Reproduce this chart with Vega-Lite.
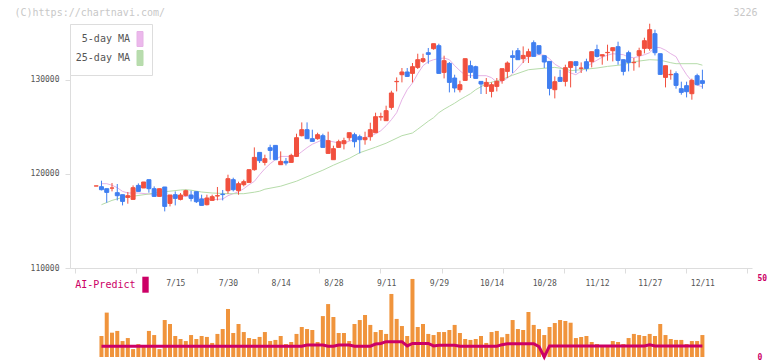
{
"$schema":"https://vega.github.io/schema/vega-lite/v6.json",
"background":"white",
"padding":{"left":14,"top":7,"right":4,"bottom":0},
"bounds":"flush",
"spacing":10,
"resolve":{"scale":{"color":"independent"},"legend":{"color":"independent"}},
"config":{"view":{"stroke":null},
 "axis":{"grid":false,"labelFont":"DejaVu Sans Mono","labelFontSize":8,"labelColor":"#555555","domainColor":"#dddddd","tickColor":"#dddddd","titleFont":"DejaVu Sans Mono"},
 "legend":{"labelFont":"DejaVu Sans Mono","labelFontSize":10}},
"datasets":{
"candles":[
{"i":0,"o":118720,"h":118730,"l":118720,"c":118730},
{"i":1,"o":118649,"h":119287,"l":118255,"c":118330},
{"i":2,"o":118436,"h":118436,"l":116947,"c":118043},
{"i":3,"o":118500,"h":119043,"l":118149,"c":118511},
{"i":4,"o":118011,"h":118936,"l":117192,"c":117692},
{"i":5,"o":117798,"h":117798,"l":116660,"c":117085},
{"i":6,"o":117511,"h":118085,"l":116840,"c":117692},
{"i":7,"o":117298,"h":118787,"l":117298,"c":118542},
{"i":8,"o":118787,"h":119000,"l":118149,"c":118149},
{"i":9,"o":118511,"h":119149,"l":118511,"c":119149},
{"i":10,"o":119394,"h":119394,"l":118011,"c":118436},
{"i":11,"o":118436,"h":118681,"l":117617,"c":117617},
{"i":12,"o":117617,"h":118436,"l":117617,"c":118436},
{"i":13,"o":118617,"h":118617,"l":116021,"c":116553},
{"i":14,"o":116872,"h":117766,"l":116553,"c":117766},
{"i":15,"o":117798,"h":118149,"l":116660,"c":117404},
{"i":16,"o":117298,"h":117979,"l":117192,"c":117766},
{"i":17,"o":117723,"h":118330,"l":117617,"c":118223},
{"i":18,"o":117766,"h":118223,"l":117085,"c":117404},
{"i":19,"o":118117,"h":118117,"l":116915,"c":117053},
{"i":20,"o":117340,"h":117798,"l":116660,"c":116660},
{"i":21,"o":116734,"h":117798,"l":116660,"c":117447},
{"i":22,"o":117192,"h":117798,"l":117192,"c":117585},
{"i":23,"o":117660,"h":118617,"l":117192,"c":117692},
{"i":24,"o":117851,"h":118298,"l":117192,"c":117808},
{"i":25,"o":118223,"h":119925,"l":117904,"c":119500},
{"i":26,"o":119394,"h":119606,"l":118149,"c":118330},
{"i":27,"o":118223,"h":119181,"l":117798,"c":118968},
{"i":28,"o":118862,"h":119394,"l":118681,"c":119181},
{"i":29,"o":119106,"h":120457,"l":119106,"c":120457},
{"i":30,"o":120457,"h":122830,"l":120351,"c":121766},
{"i":31,"o":122298,"h":122298,"l":121170,"c":121415},
{"i":32,"o":121234,"h":122053,"l":120915,"c":121628},
{"i":33,"o":122798,"h":123117,"l":121521,"c":122510},
{"i":34,"o":123042,"h":123042,"l":121521,"c":121521},
{"i":35,"o":120989,"h":122404,"l":120989,"c":121340},
{"i":36,"o":121340,"h":121702,"l":120915,"c":121170},
{"i":37,"o":121234,"h":122159,"l":121234,"c":121979},
{"i":38,"o":121872,"h":124287,"l":121808,"c":123862},
{"i":39,"o":124074,"h":125489,"l":124000,"c":124713},
{"i":40,"o":124713,"h":125489,"l":123755,"c":123755},
{"i":41,"o":123755,"h":124713,"l":123468,"c":123468},
{"i":42,"o":123755,"h":124393,"l":123649,"c":124181},
{"i":43,"o":124074,"h":124287,"l":122830,"c":122830},
{"i":44,"o":122191,"h":124500,"l":122191,"c":123542},
{"i":45,"o":121521,"h":123011,"l":121521,"c":122691},
{"i":46,"o":122830,"h":123649,"l":122830,"c":123436},
{"i":47,"o":123223,"h":123862,"l":122617,"c":123542},
{"i":48,"o":123862,"h":124393,"l":123542,"c":124393},
{"i":49,"o":124181,"h":124393,"l":122830,"c":123436},
{"i":50,"o":123968,"h":124181,"l":122191,"c":123649},
{"i":51,"o":123649,"h":124500,"l":123117,"c":123862},
{"i":52,"o":123968,"h":125457,"l":123542,"c":124713},
{"i":53,"o":124393,"h":126521,"l":124393,"c":126096},
{"i":54,"o":126063,"h":126521,"l":125670,"c":126096},
{"i":55,"o":125670,"h":127266,"l":125670,"c":126734},
{"i":56,"o":127085,"h":128861,"l":126840,"c":128617},
{"i":57,"o":129819,"h":130276,"l":128787,"c":129851},
{"i":58,"o":130563,"h":131276,"l":129744,"c":130851},
{"i":59,"o":130851,"h":131276,"l":130319,"c":130383},
{"i":60,"o":130702,"h":131808,"l":129744,"c":131415},
{"i":61,"o":131340,"h":132797,"l":131170,"c":132159},
{"i":62,"o":131978,"h":132797,"l":131808,"c":132266},
{"i":63,"o":132904,"h":133404,"l":131734,"c":132723},
{"i":64,"o":133329,"h":133861,"l":133223,"c":133861},
{"i":65,"o":133649,"h":133861,"l":130702,"c":130702},
{"i":66,"o":130808,"h":132585,"l":130170,"c":132053},
{"i":67,"o":131766,"h":131914,"l":128681,"c":129744},
{"i":68,"o":130212,"h":130563,"l":128681,"c":129149},
{"i":69,"o":128968,"h":129925,"l":128681,"c":129500},
{"i":70,"o":129957,"h":132266,"l":129957,"c":132266},
{"i":71,"o":131521,"h":132053,"l":130212,"c":130808},
{"i":72,"o":131415,"h":131521,"l":130170,"c":130170},
{"i":73,"o":129851,"h":129851,"l":128510,"c":129574},
{"i":74,"o":129319,"h":130212,"l":128510,"c":129744},
{"i":75,"o":128787,"h":129744,"l":128149,"c":129500},
{"i":76,"o":129319,"h":130212,"l":128787,"c":129851},
{"i":77,"o":129957,"h":131202,"l":129606,"c":131202},
{"i":78,"o":130915,"h":131978,"l":130212,"c":131808},
{"i":79,"o":132585,"h":133149,"l":130744,"c":132404},
{"i":80,"o":133117,"h":133404,"l":132159,"c":132159},
{"i":81,"o":132266,"h":133574,"l":131808,"c":132617},
{"i":82,"o":132510,"h":133329,"l":131808,"c":133010},
{"i":83,"o":133968,"h":134212,"l":132510,"c":132510},
{"i":84,"o":133649,"h":133649,"l":132659,"c":132797},
{"i":85,"o":132585,"h":132585,"l":131276,"c":131914},
{"i":86,"o":131978,"h":131978,"l":128361,"c":129106},
{"i":87,"o":128968,"h":130383,"l":128042,"c":129819},
{"i":88,"o":130276,"h":131095,"l":129851,"c":129851},
{"i":89,"o":129851,"h":131627,"l":129319,"c":131308},
{"i":90,"o":131340,"h":131946,"l":129212,"c":131946},
{"i":91,"o":131946,"h":131946,"l":130744,"c":131553},
{"i":92,"o":131244,"h":131872,"l":130744,"c":131276},
{"i":93,"o":131946,"h":132266,"l":130915,"c":131234},
{"i":94,"o":131946,"h":133010,"l":131340,"c":133010},
{"i":95,"o":133223,"h":133755,"l":132404,"c":132510},
{"i":96,"o":132553,"h":132691,"l":131627,"c":132691},
{"i":97,"o":132904,"h":133755,"l":132053,"c":132936},
{"i":98,"o":133117,"h":133436,"l":131978,"c":133436},
{"i":99,"o":133542,"h":134074,"l":131627,"c":132085},
{"i":100,"o":132159,"h":132159,"l":130489,"c":130915},
{"i":101,"o":132904,"h":133117,"l":130915,"c":131872},
{"i":102,"o":131840,"h":132340,"l":130989,"c":131872},
{"i":103,"o":132617,"h":133436,"l":131340,"c":133117},
{"i":104,"o":133361,"h":134500,"l":132829,"c":134180},
{"i":105,"o":133361,"h":135989,"l":133117,"c":135351},
{"i":106,"o":134925,"h":135351,"l":132617,"c":132904},
{"i":107,"o":132797,"h":132797,"l":130595,"c":130595},
{"i":108,"o":130276,"h":131521,"l":129212,"c":131521},
{"i":109,"o":130563,"h":131095,"l":130032,"c":130595},
{"i":110,"o":130670,"h":130915,"l":129074,"c":129425},
{"i":111,"o":129074,"h":129819,"l":128436,"c":128681},
{"i":112,"o":129393,"h":129819,"l":128149,"c":128755},
{"i":113,"o":128542,"h":130138,"l":127904,"c":129957},
{"i":114,"o":130457,"h":130670,"l":129425,"c":129500},
{"i":115,"o":129925,"h":131095,"l":129074,"c":129638}
],
"ma":[
{"i":1,"s":"5-day MA","v":118968},{"i":2,"s":"5-day MA","v":118968},{"i":3,"s":"5-day MA","v":118808},{"i":4,"s":"5-day MA","v":118542},{"i":5,"s":"5-day MA","v":118149},{"i":6,"s":"5-day MA","v":117979},{"i":8,"s":"5-day MA","v":117979},{"i":10,"s":"5-day MA","v":117872},{"i":12,"s":"5-day MA","v":117798},{"i":14,"s":"5-day MA","v":117617},{"i":16,"s":"5-day MA","v":117585},{"i":18,"s":"5-day MA","v":117660},{"i":20,"s":"5-day MA","v":117372},{"i":22,"s":"5-day MA","v":117266},{"i":24,"s":"5-day MA","v":117340},{"i":25,"s":"5-day MA","v":117692},{"i":26,"s":"5-day MA","v":117904},{"i":27,"s":"5-day MA","v":118117},{"i":28,"s":"5-day MA","v":118436},{"i":29,"s":"5-day MA","v":118862},{"i":30,"s":"5-day MA","v":119213},{"i":31,"s":"5-day MA","v":119925},{"i":32,"s":"5-day MA","v":120564},{"i":33,"s":"5-day MA","v":121096},{"i":34,"s":"5-day MA","v":121521},{"i":35,"s":"5-day MA","v":121872},{"i":37,"s":"5-day MA","v":121872},{"i":38,"s":"5-day MA","v":121947},{"i":39,"s":"5-day MA","v":122372},{"i":40,"s":"5-day MA","v":122798},{"i":41,"s":"5-day MA","v":123170},{"i":43,"s":"5-day MA","v":123649},{"i":44,"s":"5-day MA","v":123542},{"i":46,"s":"5-day MA","v":123298},{"i":47,"s":"5-day MA","v":123298},{"i":48,"s":"5-day MA","v":123489},{"i":49,"s":"5-day MA","v":123649},{"i":50,"s":"5-day MA","v":123808},{"i":51,"s":"5-day MA","v":123894},{"i":52,"s":"5-day MA","v":124000},{"i":53,"s":"5-day MA","v":124287},{"i":54,"s":"5-day MA","v":124606},{"i":55,"s":"5-day MA","v":125138},{"i":56,"s":"5-day MA","v":125776},{"i":57,"s":"5-day MA","v":126521},{"i":58,"s":"5-day MA","v":127904},{"i":59,"s":"5-day MA","v":128968},{"i":60,"s":"5-day MA","v":129680},{"i":61,"s":"5-day MA","v":130670},{"i":62,"s":"5-day MA","v":131521},{"i":63,"s":"5-day MA","v":131946},{"i":64,"s":"5-day MA","v":132159},{"i":65,"s":"5-day MA","v":132266},{"i":66,"s":"5-day MA","v":132340},{"i":67,"s":"5-day MA","v":132159},{"i":68,"s":"5-day MA","v":131521},{"i":69,"s":"5-day MA","v":130989},{"i":70,"s":"5-day MA","v":130510},{"i":71,"s":"5-day MA","v":130457},{"i":72,"s":"5-day MA","v":130457},{"i":73,"s":"5-day MA","v":130457},{"i":74,"s":"5-day MA","v":130457},{"i":75,"s":"5-day MA","v":130244},{"i":76,"s":"5-day MA","v":129766},{"i":77,"s":"5-day MA","v":129851},{"i":78,"s":"5-day MA","v":130191},{"i":79,"s":"5-day MA","v":130670},{"i":80,"s":"5-day MA","v":131276},{"i":81,"s":"5-day MA","v":131893},{"i":82,"s":"5-day MA","v":132425},{"i":83,"s":"5-day MA","v":132638},{"i":84,"s":"5-day MA","v":132691},{"i":85,"s":"5-day MA","v":132638},{"i":86,"s":"5-day MA","v":132266},{"i":87,"s":"5-day MA","v":131680},{"i":88,"s":"5-day MA","v":131361},{"i":89,"s":"5-day MA","v":131042},{"i":90,"s":"5-day MA","v":130744},{"i":91,"s":"5-day MA","v":130563},{"i":92,"s":"5-day MA","v":130936},{"i":93,"s":"5-day MA","v":131361},{"i":94,"s":"5-day MA","v":131787},{"i":95,"s":"5-day MA","v":132106},{"i":96,"s":"5-day MA","v":132425},{"i":97,"s":"5-day MA","v":132638},{"i":98,"s":"5-day MA","v":132797},{"i":99,"s":"5-day MA","v":132744},{"i":100,"s":"5-day MA","v":132691},{"i":101,"s":"5-day MA","v":132425},{"i":102,"s":"5-day MA","v":132372},{"i":103,"s":"5-day MA","v":132510},{"i":104,"s":"5-day MA","v":132691},{"i":105,"s":"5-day MA","v":132904},{"i":106,"s":"5-day MA","v":133489},{"i":107,"s":"5-day MA","v":133436},{"i":108,"s":"5-day MA","v":133170},{"i":109,"s":"5-day MA","v":132797},{"i":110,"s":"5-day MA","v":132478},{"i":111,"s":"5-day MA","v":131446},{"i":112,"s":"5-day MA","v":130563},{"i":113,"s":"5-day MA","v":129872},{"i":114,"s":"5-day MA","v":129447},{"i":115,"s":"5-day MA","v":129287},
{"i":1,"s":"25-day MA","v":116734},{"i":3,"s":"25-day MA","v":117192},{"i":5,"s":"25-day MA","v":117511},{"i":7,"s":"25-day MA","v":117638},{"i":10,"s":"25-day MA","v":117872},{"i":12,"s":"25-day MA","v":118064},{"i":14,"s":"25-day MA","v":118170},{"i":16,"s":"25-day MA","v":118298},{"i":17,"s":"25-day MA","v":118330},{"i":18,"s":"25-day MA","v":118277},{"i":20,"s":"25-day MA","v":118085},{"i":22,"s":"25-day MA","v":117979},{"i":25,"s":"25-day MA","v":117904},{"i":28,"s":"25-day MA","v":117904},{"i":30,"s":"25-day MA","v":118064},{"i":31,"s":"25-day MA","v":118170},{"i":32,"s":"25-day MA","v":118383},{"i":35,"s":"25-day MA","v":118702},{"i":38,"s":"25-day MA","v":119234},{"i":40,"s":"25-day MA","v":119713},{"i":43,"s":"25-day MA","v":120404},{"i":45,"s":"25-day MA","v":120936},{"i":48,"s":"25-day MA","v":121659},{"i":50,"s":"25-day MA","v":122266},{"i":53,"s":"25-day MA","v":122851},{"i":55,"s":"25-day MA","v":123276},{"i":58,"s":"25-day MA","v":124074},{"i":60,"s":"25-day MA","v":124361},{"i":61,"s":"25-day MA","v":124766},{"i":62,"s":"25-day MA","v":125191},{"i":63,"s":"25-day MA","v":125617},{"i":64,"s":"25-day MA","v":125989},{"i":65,"s":"25-day MA","v":126521},{"i":66,"s":"25-day MA","v":126893},{"i":67,"s":"25-day MA","v":127213},{"i":68,"s":"25-day MA","v":127532},{"i":69,"s":"25-day MA","v":127904},{"i":70,"s":"25-day MA","v":128223},{"i":71,"s":"25-day MA","v":128542},{"i":72,"s":"25-day MA","v":128968},{"i":74,"s":"25-day MA","v":129606},{"i":77,"s":"25-day MA","v":130063},{"i":79,"s":"25-day MA","v":130510},{"i":82,"s":"25-day MA","v":131095},{"i":84,"s":"25-day MA","v":131202},{"i":87,"s":"25-day MA","v":131340},{"i":89,"s":"25-day MA","v":131170},{"i":90,"s":"25-day MA","v":130989},{"i":92,"s":"25-day MA","v":131095},{"i":95,"s":"25-day MA","v":131276},{"i":97,"s":"25-day MA","v":131446},{"i":100,"s":"25-day MA","v":131627},{"i":102,"s":"25-day MA","v":131946},{"i":105,"s":"25-day MA","v":132159},{"i":107,"s":"25-day MA","v":132106},{"i":109,"s":"25-day MA","v":131840},{"i":110,"s":"25-day MA","v":131734},{"i":114,"s":"25-day MA","v":131734},{"i":115,"s":"25-day MA","v":131574}
],
"vol":[
{"i":1,"v":13.3,"ai":6.8},{"i":2,"v":28.1,"ai":6.8},{"i":3,"v":15.4,"ai":6.8},{"i":4,"v":16.5,"ai":6.8},{"i":5,"v":10.1,"ai":6.8},{"i":6,"v":12.0,"ai":6.8},{"i":7,"v":5.0,"ai":6.8},{"i":8,"v":8.2,"ai":6.8},{"i":9,"v":6.5,"ai":6.8},{"i":10,"v":16.5,"ai":6.8},
{"i":11,"v":13.9,"ai":6.8},{"i":12,"v":5.0,"ai":6.8},{"i":13,"v":23.4,"ai":6.8},{"i":14,"v":20.9,"ai":6.8},{"i":15,"v":13.3,"ai":6.8},{"i":16,"v":11.4,"ai":6.8},{"i":17,"v":10.1,"ai":6.8},{"i":18,"v":13.9,"ai":6.8},{"i":19,"v":11.4,"ai":6.8},{"i":20,"v":13.3,"ai":6.8},
{"i":21,"v":12.7,"ai":6.8},{"i":22,"v":8.9,"ai":6.8},{"i":23,"v":14.6,"ai":6.8},{"i":24,"v":17.7,"ai":6.8},{"i":25,"v":30.4,"ai":6.8},{"i":26,"v":15.2,"ai":6.8},{"i":27,"v":20.9,"ai":6.8},{"i":28,"v":15.8,"ai":6.8},{"i":29,"v":12.0,"ai":6.8},{"i":30,"v":11.4,"ai":6.8},
{"i":31,"v":12.7,"ai":6.8},{"i":32,"v":15.8,"ai":6.8},{"i":33,"v":10.1,"ai":6.8},{"i":34,"v":10.8,"ai":6.8},{"i":35,"v":13.3,"ai":6.8},{"i":36,"v":8.2,"ai":6.8},{"i":37,"v":9.5,"ai":6.8},{"i":38,"v":14.6,"ai":6.8},{"i":39,"v":19.0,"ai":6.8},{"i":40,"v":17.7,"ai":7.6},
{"i":41,"v":17.1,"ai":7.6},{"i":42,"v":9.5,"ai":7.6},{"i":43,"v":25.9,"ai":7.6},{"i":44,"v":33.5,"ai":6.8},{"i":45,"v":25.3,"ai":6.8},{"i":46,"v":15.2,"ai":7.6},{"i":47,"v":15.2,"ai":7.6},{"i":48,"v":10.1,"ai":7.6},{"i":49,"v":20.9,"ai":6.8},{"i":50,"v":23.4,"ai":6.8},
{"i":51,"v":26.6,"ai":6.8},{"i":52,"v":20.3,"ai":6.8},{"i":53,"v":15.8,"ai":8.2},{"i":54,"v":17.1,"ai":8.6},{"i":55,"v":14.6,"ai":9.7},{"i":56,"v":39.9,"ai":9.7},{"i":57,"v":24.1,"ai":9.7},{"i":58,"v":19.6,"ai":9.7},{"i":59,"v":13.3,"ai":7.0},{"i":60,"v":49.4,"ai":8.6},
{"i":61,"v":19.0,"ai":8.6},{"i":62,"v":20.9,"ai":8.6},{"i":63,"v":14.6,"ai":8.6},{"i":64,"v":13.9,"ai":7.0},{"i":65,"v":15.8,"ai":7.4},{"i":66,"v":15.8,"ai":7.4},{"i":67,"v":17.1,"ai":7.4},{"i":68,"v":20.3,"ai":7.4},{"i":69,"v":15.2,"ai":6.8},{"i":70,"v":11.4,"ai":6.8},
{"i":71,"v":10.8,"ai":6.8},{"i":72,"v":11.4,"ai":6.8},{"i":73,"v":13.3,"ai":6.8},{"i":74,"v":8.9,"ai":6.8},{"i":75,"v":15.8,"ai":6.8},{"i":76,"v":16.5,"ai":6.8},{"i":77,"v":12.5,"ai":7.8},{"i":78,"v":14.6,"ai":8.4},{"i":79,"v":23.4,"ai":8.4},{"i":80,"v":17.7,"ai":8.4},
{"i":81,"v":17.1,"ai":8.4},{"i":82,"v":28.5,"ai":8.4},{"i":83,"v":20.3,"ai":8.4},{"i":84,"v":17.7,"ai":6.6},{"i":85,"v":13.9,"ai":0},{"i":86,"v":19.0,"ai":7.0},{"i":87,"v":21.5,"ai":7.0},{"i":88,"v":23.4,"ai":7.0},{"i":89,"v":22.8,"ai":7.0},{"i":90,"v":21.7,"ai":7.0},
{"i":91,"v":12.0,"ai":7.0},{"i":92,"v":12.7,"ai":7.0},{"i":93,"v":13.3,"ai":7.0},{"i":94,"v":9.5,"ai":7.0},{"i":95,"v":8.2,"ai":7.0},{"i":96,"v":7.0,"ai":7.0},{"i":97,"v":7.0,"ai":7.0},{"i":98,"v":10.1,"ai":7.0},{"i":99,"v":9.5,"ai":7.0},{"i":100,"v":8.2,"ai":7.0},
{"i":101,"v":12.0,"ai":7.0},{"i":102,"v":14.6,"ai":7.0},{"i":103,"v":13.9,"ai":7.0},{"i":104,"v":13.3,"ai":7.0},{"i":105,"v":14.6,"ai":7.8},{"i":106,"v":13.3,"ai":7.0},{"i":107,"v":20.9,"ai":7.0},{"i":108,"v":13.9,"ai":7.0},{"i":109,"v":11.4,"ai":7.0},{"i":110,"v":10.8,"ai":7.0},
{"i":111,"v":10.8,"ai":7.0},{"i":112,"v":8.2,"ai":7.0},{"i":113,"v":10.1,"ai":7.0},{"i":114,"v":10.1,"ai":7.0},{"i":115,"v":13.9,"ai":7.0}
]
},
"vconcat":[
{
 "width":682,"height":244,
 "layer":[
  {"data":{"name":"ma"},
   "mark":{"type":"line","strokeWidth":1,"interpolate":"linear"},
   "encoding":{
    "x":{"field":"i","type":"quantitative","scale":{"domain":[-4.02,123.46],"nice":false,"zero":false},
     "axis":{"values":[-4.02,7.57,19.16,30.75,42.34,53.93,65.52,77.11,88.7,100.29,111.88,123.46],"labels":false,"ticks":true,"tickSize":5,"domain":true,
      "title":"3226","titleX":687,"titleY":-256,"titleAlign":"right","titleBaseline":"middle","titleColor":"#c8c8c8","titleFontSize":10,"titleFontWeight":"normal","titlePadding":0}},
    "y":{"field":"v","type":"quantitative","scale":{"domain":[110000,135957],"nice":false,"zero":false},
     "axis":{"values":[110000,120000,130000],"format":"d","tickSize":5,"labelPadding":6,
      "title":"(C)https://chartnavi.com/","titleAngle":0,"titleX":-56,"titleY":-12,"titleAlign":"left","titleBaseline":"middle","titleColor":"#c8c8c8","titleFontSize":10,"titleFontWeight":"normal"}},
    "color":{"field":"s","type":"nominal","scale":{"domain":["5-day MA","25-day MA"],"range":["#e6b2e6","#b6dcaa"]},
     "legend":{"orient":"none","legendX":0,"legendY":0,"title":null,"padding":7,"rowPadding":-1,
      "symbolType":"M-0.4,-1H0.4V1H-0.4Z","symbolSize":225,"symbolOffset":55,"labelOffset":-18,"labelAlign":"right",
      "labelColor":"#555555","labelFontSize":10,"strokeColor":"#dddddd","fillColor":"#ffffff",
      "encode":{"symbols":{"update":{"fill":[{"test":"datum.value === '5-day MA'","value":"#ecb8ec"},{"value":"#b8dcae"}],"stroke":{"value":"#666666"},"strokeWidth":{"value":1},"opacity":{"value":1}}}}}}
   }},
  {"data":{"name":"candles"},
   "mark":{"type":"rule","strokeWidth":1},
   "encoding":{
    "x":{"field":"i","type":"quantitative"},
    "y":{"field":"l","type":"quantitative"},
    "y2":{"field":"h"},
    "color":{"condition":{"test":"datum.c >= datum.o","value":"#f1503e"},"value":"#3f7ef0"}
   }},
  {"data":{"name":"candles"},
   "mark":{"type":"bar","width":4,"strokeWidth":1},
   "encoding":{
    "x":{"field":"i","type":"quantitative"},
    "y":{"field":"o","type":"quantitative"},
    "y2":{"field":"c"},
    "fill":{"condition":{"test":"datum.c >= datum.o","value":"#f1503e"},"value":"#3f7ef0"},
    "stroke":{"condition":{"test":"datum.c >= datum.o","value":"#f1503e"},"value":"#3f7ef0"}
   }}
 ]
},
{
 "width":682,"height":79,
 "data":{"name":"vol"},
 "layer":[
  {"mark":{"type":"bar","width":4,"color":"#f0943c"},
   "encoding":{
    "x":{"field":"i","type":"quantitative","scale":{"domain":[-4.02,123.46],"nice":false,"zero":false},
     "axis":{"orient":"top","values":[15,25,35,45,55,65,75,85,95,105,115],
      "labelExpr":"datum.value == 15 ? '7/15' : datum.value == 25 ? '7/30' : datum.value == 35 ? '8/14' : datum.value == 45 ? '8/28' : datum.value == 55 ? '9/11' : datum.value == 65 ? '9/29' : datum.value == 75 ? '10/14' : datum.value == 85 ? '10/28' : datum.value == 95 ? '11/12' : datum.value == 105 ? '11/27' : '12/11'",
      "domain":false,"ticks":false,"tickSize":0,"labelPadding":-5,"labelBaseline":"middle","labelFlush":false,"labelOverlap":false,"title":null}},
    "y":{"field":"v","type":"quantitative","scale":{"domain":[0,50],"nice":false},
     "axis":{"orient":"right","values":[0,10,20,30,40,50],"domain":false,"ticks":false,"labelPadding":5,"labelColor":"#cc0066","labelFontWeight":"bold","title":null}}
   }},
  {"mark":{"type":"line","strokeWidth":3,"interpolate":"linear"},
   "encoding":{
    "x":{"field":"i","type":"quantitative"},
    "y":{"field":"ai","type":"quantitative"},
    "color":{"datum":"AI-Predict","type":"nominal","scale":{"range":["#cc0066"]},
     "legend":{"orient":"none","legendX":0,"legendY":-1.3,"title":null,"padding":0,
      "symbolType":"M-0.4,-1H0.4V1H-0.4Z","symbolSize":256,"symbolOffset":67.5,"labelOffset":-18,"labelAlign":"right",
      "labelColor":"#cc0066","labelFontSize":10,
      "encode":{"symbols":{"update":{"fill":{"value":"#cc0066"},"stroke":{"value":"#cc0066"},"strokeWidth":{"value":0},"opacity":{"value":1}}}}}}
   }}
 ]
}
]
}
